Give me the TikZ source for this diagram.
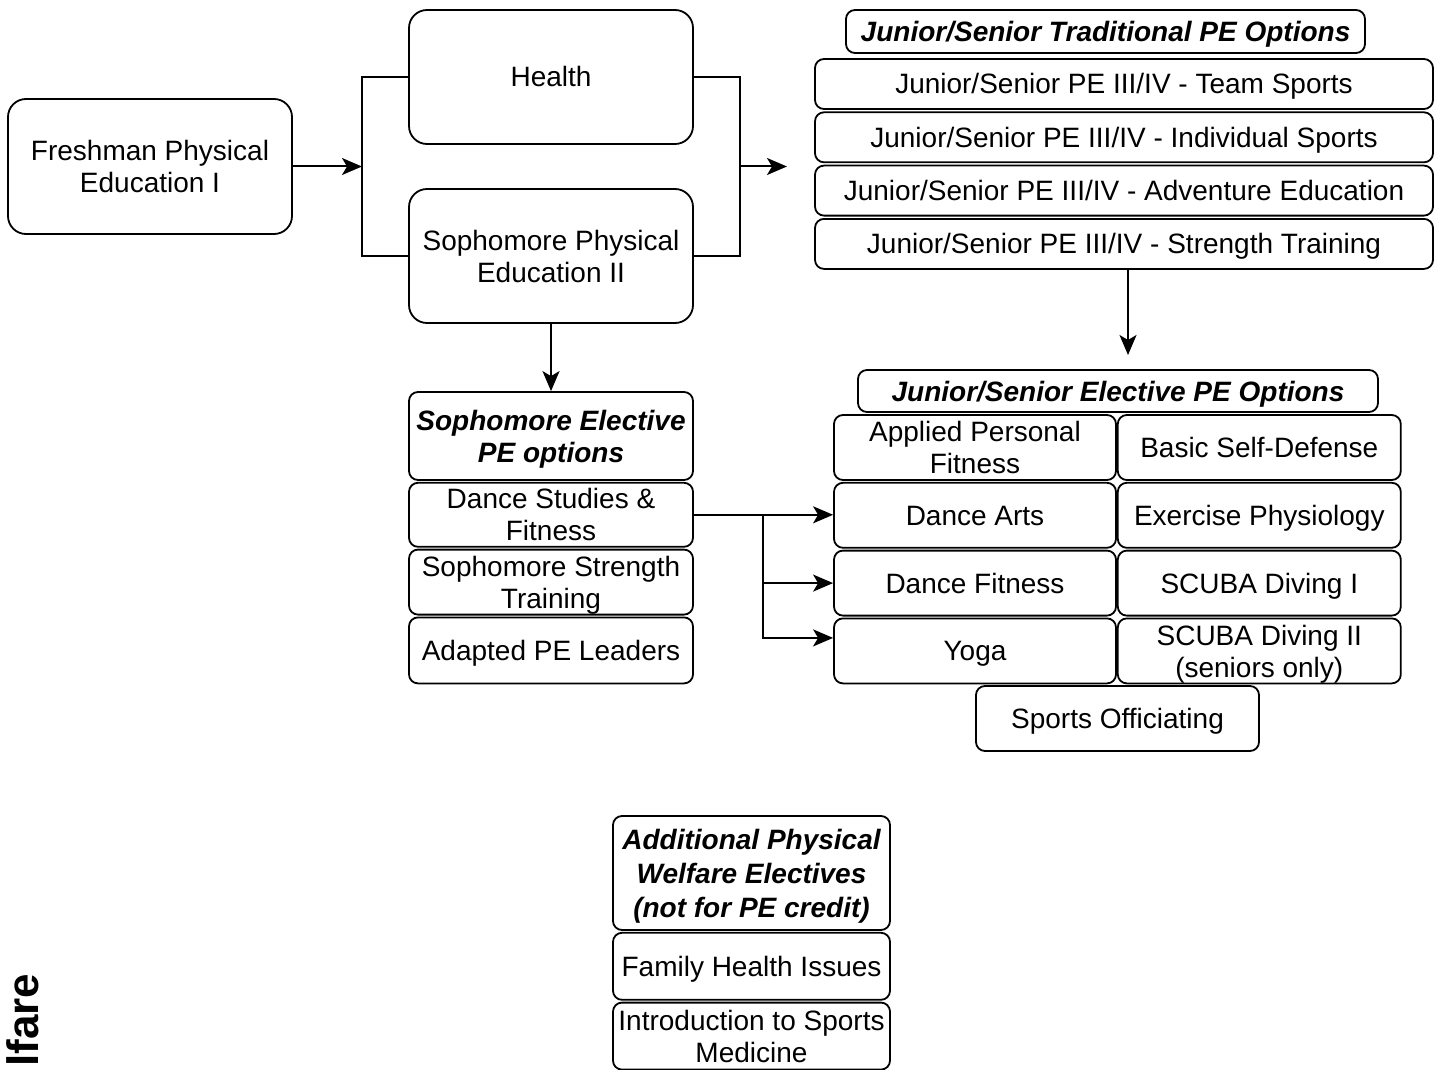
\documentclass[tikz,border=0pt]{standalone}
\usepackage{fontspec}
\setmainfont{Liberation Sans}
\usetikzlibrary{arrows.meta,positioning}
\newcommand{\nodp}[1]{\raisebox{0pt}[\height][0pt]{#1}}
\tikzset{
  course/.style={draw,rounded corners=#1,line width=1.8pt,align=center,inner sep=0pt,
    font=\fontsize{28}{32}\selectfont},
  course/.default=9pt,
  heading/.style={course,font=\fontsize{28}{32}\selectfont\bfseries\itshape},
  one/.style={text height=20pt,text depth=0pt},
  wh/.style 2 args={minimum width=#1,minimum height=#2},
  link/.style={line width=2pt},
  flow/.style={link,-{Stealth[length=20pt,width=17pt,inset=5pt]}}
}

\begin{document}
\begin{tikzpicture}[x=1pt,y=-1pt]
  \useasboundingbox (0,0) rectangle (1444,1070);
  % first and second year
  \node[course=18pt,wh={284pt}{135pt}] (fresh) at (150,166.5) {Freshman Physical\\Education I};
  \node[course=18pt,one,wh={284pt}{134pt}] (health) at (551,77) {Health};
  \node[course=18pt,wh={284pt}{134pt}] (soph) at (551,256) {Sophomore Physical\\Education II};
  % junior/senior traditional
  \node[heading,one,wh={519pt}{43pt}] (trad) at (1105.5,31.5) {Junior/Senior Traditional PE Options};
  \node[course,one,wh={618pt}{50pt}] (trad1) at (1124,84) {Junior/Senior PE III/IV - Team Sports};
  \node[course,one,wh={618pt}{50pt},below=1.5pt of trad1] (trad2) {Junior/Senior PE III/IV - Individual Sports};
  \node[course,one,wh={618pt}{50pt},below=1.5pt of trad2] (trad3) {Junior/Senior PE III/IV - Adventure Education};
  \node[course,one,wh={618pt}{50pt},below=1.5pt of trad3] (trad4) {Junior/Senior PE III/IV - Strength Training};
  % sophomore electives
  \node[heading,wh={284pt}{88pt}] (sel) at (551,436) {Sophomore Elective\\\nodp{PE options}};
  \node[course,wh={284pt}{64pt},below=1pt of sel] (sel1) {Dance Studies \&\\Fitness};
  \node[course,wh={284pt}{65pt},below=1pt of sel1] (sel2) {Sophomore Strength\\\nodp{Training}};
  \node[course,one,wh={284pt}{66pt},below=1pt of sel2] (sel3) {Adapted PE Leaders};
  % junior/senior electives
  \node[heading,one,wh={520pt}{42pt}] (jel) at (1118,391) {Junior/Senior Elective PE Options};
  \node[course,wh={282pt}{65pt}] (apf) at (975,447.5) {Applied Personal\\Fitness};
  \node[course,one,wh={283pt}{65pt},right=0pt of apf] (bsd) {Basic Self-Defense};
  \node[course,one,wh={282pt}{65pt},below=1pt of apf] (darts) {Dance Arts};
  \node[course,one,wh={283pt}{65pt},right=0pt of darts] (exphys) {Exercise Physiology};
  \node[course,one,wh={282pt}{65pt},below=1pt of darts] (dfit) {Dance Fitness};
  \node[course,one,wh={283pt}{65pt},right=0pt of dfit] (scuba1) {SCUBA Diving I};
  \node[course,one,wh={282pt}{65pt},below=1pt of dfit] (yoga) {Yoga};
  \node[course,wh={283pt}{65pt},right=0pt of yoga] (scuba2) {SCUBA Diving II\\\nodp{(seniors only)}};
  \node[course,one,wh={283pt}{65pt}] (offic) at (1117.5,718.5) {Sports Officiating};
  % additional electives
  \node[heading,wh={277pt}{114pt},font=\fontsize{28}{34}\selectfont\bfseries\itshape] (add) at (751.5,873)
    {Additional Physical\\Welfare Electives\\\nodp{(not for PE credit)}};
  \node[course,one,wh={277pt}{67pt},below=1pt of add] (fhi) {Family Health Issues};
  \node[course,wh={277pt}{67pt},below=1pt of fhi] (ism) {Introduction to Sports\\Medicine};
  \node[rotate=90,anchor=base west,inner sep=0pt,font=\fontsize{44}{44}\selectfont\bfseries] (side) at (38,1067) {lfare};
  % connectors
  \coordinate (jl) at (362,166.5);
  \coordinate (jr) at (740,166.5);
  \coordinate (jrend) at (787,166.5);
  \coordinate (down) at (1128,355);
  \coordinate (split) at (763,515);
  \draw[flow] (fresh) -- (jl);
  \draw[link] (health.west) -| (jl) |- (soph.west);
  \draw[link] (health.east) -| (jr) |- (soph.east);
  \draw[flow] (jr) -- (jrend);
  \draw[flow] (soph) -- (sel);
  \draw[flow] (trad4.south -| down) -- (down);
  \draw[flow] (sel1.east) -- (sel1.east -| darts.west);
  \draw[flow] (split) |- (dfit);
  \draw[flow] (split) |- ([yshift=13pt]yoga.west);
\end{tikzpicture}
\end{document}
